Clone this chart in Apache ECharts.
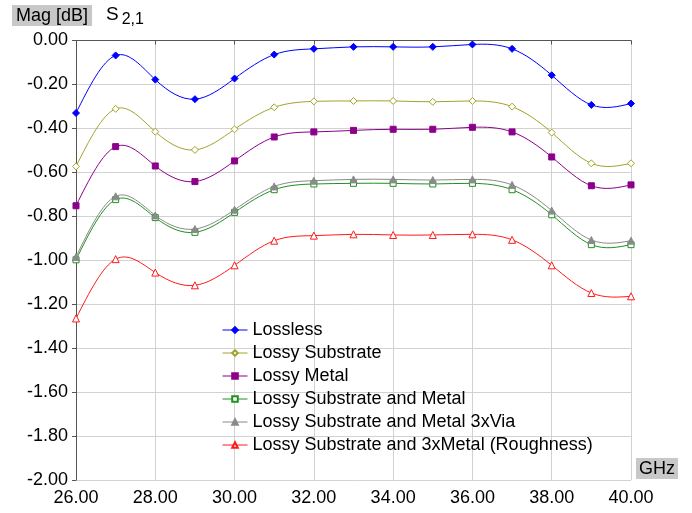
<!DOCTYPE html>
<html>
<head>
<meta charset="utf-8">
<script src="https://cdn.jsdelivr.net/npm/echarts@6/dist/echarts.min.js"></script>
<style>
html,body{margin:0;padding:0;background:#fff;}
#chart{width:692px;height:513px;}
</style>
</head>
<body>
<div id="chart"></div>
<script>
var freqs = [26, 27, 28, 29, 30, 31, 32, 33, 34, 35, 36, 37, 38, 39, 40];
var seriesNames = [
  'Lossless',
  'Lossy Substrate',
  'Lossy Metal',
  'Lossy Substrate and Metal',
  'Lossy Substrate and Metal 3xVia',
  'Lossy Substrate and 3xMetal (Roughness)'
];
var lossless   = [-0.330, -0.068, -0.178, -0.267, -0.173, -0.064, -0.038, -0.029, -0.029, -0.029, -0.018, -0.038, -0.158, -0.293, -0.287];
var lossySub   = [-0.573, -0.311, -0.415, -0.498, -0.404, -0.304, -0.277, -0.275, -0.275, -0.279, -0.275, -0.301, -0.419, -0.559, -0.559];
var lossyMetal = [-0.752, -0.483, -0.571, -0.642, -0.548, -0.439, -0.416, -0.409, -0.404, -0.404, -0.395, -0.416, -0.530, -0.661, -0.657];
var subMetal   = [-0.998, -0.724, -0.806, -0.873, -0.782, -0.679, -0.653, -0.650, -0.650, -0.653, -0.650, -0.679, -0.793, -0.929, -0.929];
var subMetalVia= [-0.985, -0.709, -0.796, -0.858, -0.770, -0.664, -0.638, -0.632, -0.632, -0.635, -0.632, -0.657, -0.774, -0.908, -0.911];
var roughness  = [-1.265, -0.995, -1.056, -1.114, -1.023, -0.911, -0.888, -0.882, -0.885, -0.885, -0.882, -0.907, -1.023, -1.149, -1.164];
var yTitle = 'Mag [dB]';
var xUnit = 'GHz';

var FONT = 'Liberation Sans';
function pairs(arr){ return freqs.map(function(f,i){ return [f, arr[i]]; }); }

var styles = [
  {color:'#0000ff', symbol:'diamond', size:7, fill:true},
  {color:'#a3a32a', symbol:'diamond', size:7, fill:false},
  {color:'#8b008b', symbol:'rect', size:6, fill:true},
  {color:'#1f911f', symbol:'rect', size:6, fill:false},
  {color:'#8a8a8a', symbol:'triangle', size:7, fill:true},
  {color:'#ff1a1a', symbol:'triangle', size:7, fill:false}
];
var datasets = [lossless, lossySub, lossyMetal, subMetal, subMetalVia, roughness];

// natural cubic spline -> bezier segments (in data space; axes are linear)
function splineSegments(xs, ys){
  var n = xs.length - 1, h = [], i;
  for (i = 0; i < n; i++) h.push(xs[i+1] - xs[i]);
  var a = [], b = [], c = [], r = [];
  for (i = 1; i < n; i++) {
    a.push(h[i-1]); b.push(2*(h[i-1]+h[i])); c.push(h[i]);
    r.push(6*((ys[i+1]-ys[i])/h[i] - (ys[i]-ys[i-1])/h[i-1]));
  }
  var m = a.length;
  for (i = 1; i < m; i++) {
    var w = a[i]/b[i-1];
    b[i] -= w*c[i-1]; r[i] -= w*r[i-1];
  }
  var M = new Array(n+1).fill(0);
  for (i = m-1; i >= 0; i--) {
    M[i+1] = (r[i] - (i < m-1 ? c[i]*M[i+2] : 0)) / b[i];
  }
  var segs = [];
  for (i = 0; i < n; i++) {
    var s = (ys[i+1]-ys[i])/h[i];
    var d0 = s - h[i]*(2*M[i] + M[i+1])/6;
    var d1 = s + h[i]*(M[i] + 2*M[i+1])/6;
    segs.push([
      [xs[i], ys[i]],
      [xs[i] + h[i]/3, ys[i] + d0*h[i]/3],
      [xs[i+1] - h[i]/3, ys[i+1] - d1*h[i]/3],
      [xs[i+1], ys[i+1]]
    ]);
  }
  return segs;
}

var series = [];
datasets.forEach(function(d, i){
  var s = styles[i];
  series.push({
    name: '_curve' + i,
    type: 'custom',
    coordinateSystem: 'cartesian2d',
    data: [[33, -1]],
    silent: true,
    clip: true,
    renderItem: function(params, api){
      var segs = splineSegments(freqs, d);
      var children = segs.map(function(sg){
        var p0 = api.coord(sg[0]), p1 = api.coord(sg[1]), p2 = api.coord(sg[2]), p3 = api.coord(sg[3]);
        return {type:'bezierCurve', shape:{x1:p0[0], y1:p0[1], cpx1:p1[0], cpy1:p1[1], cpx2:p2[0], cpy2:p2[1], x2:p3[0], y2:p3[1]},
          style:{stroke: s.color, fill: null, lineWidth: 1}};
      });
      return {type:'group', children: children};
    }
  });
});
datasets.forEach(function(d, i){
  var s = styles[i];
  series.push({
    name: seriesNames[i],
    type: 'line',
    data: pairs(d),
    symbol: s.symbol,
    symbolSize: s.size,
    showAllSymbol: true,
    lineStyle: {color: s.color, width: 1, opacity: 0},
    itemStyle: {color: s.fill ? s.color : '#ffffff', borderColor: s.color, borderWidth: 1},
    emphasis: {disabled: true},
    animation: false
  });
});

var chart = echarts.init(document.getElementById('chart'), null, {renderer:'canvas'});
chart.setOption({
  animation: false,
  backgroundColor: '#ffffff',
  textStyle: {fontFamily: FONT},
  title: [
    {text: yTitle, left: 12, top: 5, padding: [2, 4, 1, 4], backgroundColor: '#c8c8c8',
     textStyle: {fontFamily: FONT, fontSize: 18, fontWeight: 'normal', color: '#000'}},
    {text: '{s|S}{sub|2,1}', left: 106, top: 5, padding: 0,
     textStyle: {fontWeight: 'normal', rich: {
       s: {fontFamily: FONT, fontSize: 19, fontWeight: 'normal', color: '#000', verticalAlign: 'top', lineHeight: 22},
       sub: {fontFamily: FONT, fontSize: 16, fontWeight: 'normal', color: '#000', padding: [7, 0, 0, 3], lineHeight: 22}
     }}},
    {text: xUnit, left: 636, top: 458, padding: [2, 3, 1, 3], backgroundColor: '#c8c8c8',
     textStyle: {fontFamily: FONT, fontSize: 18, fontWeight: 'normal', color: '#000'}}
  ],
  grid: {left: 76, right: 61, top: 40.5, bottom: 33, containLabel: false},
  legend: {
    orient: 'vertical', left: 222, top: 321, padding: 0,
    itemWidth: 25, itemHeight: 7, itemGap: 5,
    data: seriesNames,
    lineStyle: {opacity: 1, width: 1},
    textStyle: {fontFamily: FONT, fontSize: 18, color: '#000', lineHeight: 18},
    selectedMode: false
  },
  xAxis: {
    type: 'value', min: 26, max: 40, interval: 2,
    axisLine: {show: true, lineStyle: {color: '#555', width: 1}},
    axisTick: {show: true, length: 4, lineStyle: {color: '#555'}},
    axisLabel: {fontFamily: FONT, fontSize: 18, color: '#000', margin: 9,
      formatter: function(v){ return v.toFixed(2); }},
    splitLine: {show: true, lineStyle: {color: '#d2d2d2', width: 1}}
  },
  yAxis: {
    type: 'value', min: -2, max: 0, interval: 0.2,
    axisLine: {show: true, lineStyle: {color: '#555', width: 1}},
    axisTick: {show: true, length: 4, lineStyle: {color: '#555'}},
    axisLabel: {fontFamily: FONT, fontSize: 18, color: '#000', margin: 8,
      formatter: function(v){ return v.toFixed(2); }},
    splitLine: {show: true, lineStyle: {color: '#d2d2d2', width: 1}}
  },
  series: series
});
</script>
</body>
</html>
